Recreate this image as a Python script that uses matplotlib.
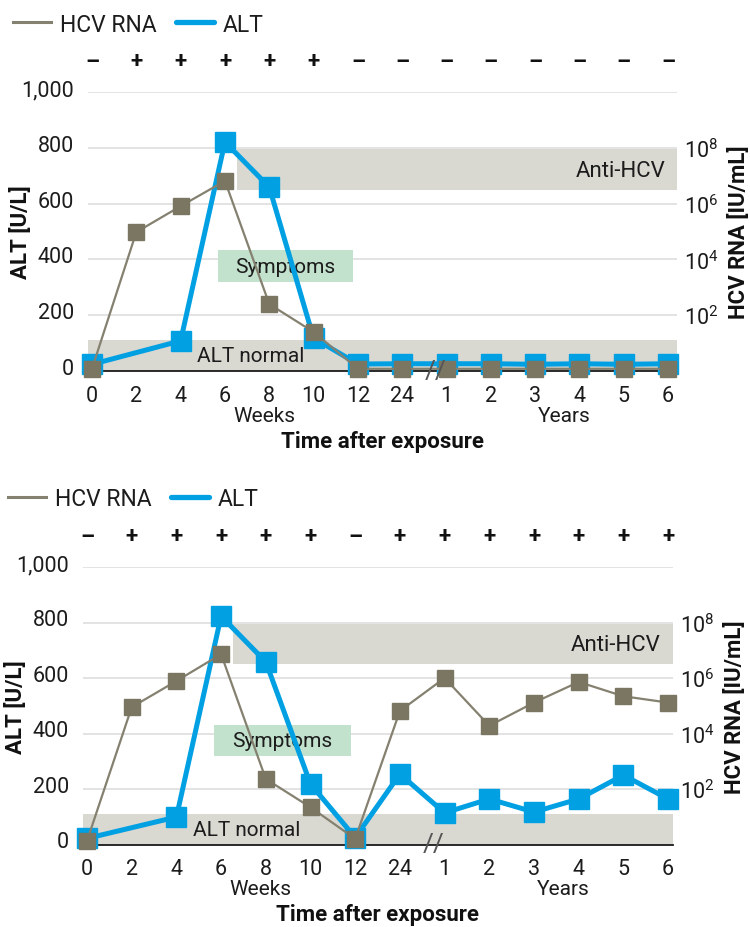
import numpy as np
import matplotlib
matplotlib.use("Agg")
import matplotlib.pyplot as plt
from matplotlib.lines import Line2D
from matplotlib import transforms

plt.rcParams['font.family'] = ['Roboto', 'DejaVu Sans']
plt.rcParams['mathtext.fontset'] = 'custom'
plt.rcParams['mathtext.rm'] = 'Roboto'
plt.rcParams['mathtext.it'] = 'Roboto'

# ---------------- data ----------------
x_labels = ['0', '2', '4', '6', '8', '10', '12', '24', '1', '2', '3', '4', '5', '6']
slots = np.arange(len(x_labels))

alt_slots = [0, 2, 3, 4, 5, 6, 7, 8, 9, 10, 11, 12, 13]   # no ALT at week 2

# panel 1: resolved infection
hcv_top = [1.2, 9.5e4, 8.1e5, 6.5e6, 250, 25, 1.2, 1.2, 1.2, 1.2, 1.2, 1.2, 1.2, 1.2]
alt_top = [24, 108, 821, 659, 118, 25, 26, 26, 26, 24, 26, 24, 26]
signs_top = ['–', '+', '+', '+', '+', '+', '–', '–', '–', '–', '–', '–', '–', '–']

# panel 2: chronic infection
hcv_bot = [1.35, 8.9e4, 7.8e5, 7.2e6, 230, 22, 1.6, 6.5e4, 1.0e6, 1.9e4, 1.3e5, 7.2e5, 2.2e5, 1.3e5]
alt_bot = [22, 99, 823, 658, 218, 25, 254, 114, 164, 117, 164, 250, 164]
signs_bot = ['–', '+', '+', '+', '+', '+', '–', '+', '+', '+', '+', '+', '+', '+']

alt_ticks = [0, 200, 400, 600, 800, 1000]
alt_ticklabels = ['0', '200', '400', '600', '800', '1,000']
rna_ticks = [1e2, 1e4, 1e6, 1e8]
rna_ticklabels = ['$10^{2}$', '$10^{4}$', '$10^{6}$', '$10^{8}$']

alt_normal = (0, 110)
anti_hcv = (650, 795)
anti_hcv_start = 3.27
symptoms_y = (320, 432)
symptoms_x = (2.84, 5.90)

# ---------------- style ----------------
GRAY = '#7a7662'
GRAY_LINE = '#858170'
BLUE = '#00a0e3'
BAND = '#d9d8d1'
GREEN = '#c3e2cd'
TXT = '#1c1c1c'
GRID = '#e0e0e0'

W, H = 750, 928
fig = plt.figure(figsize=(W / 100, H / 100), dpi=100)


def panel(rect, xlim, hcv, alt, signs, legend_xy):
    ax = fig.add_axes(rect)
    ax.set_xlim(*xlim)
    ax.set_ylim(0, 1000)
    for s in ['top', 'right', 'left']:
        ax.spines[s].set_visible(False)
    ax.spines['bottom'].set_color('#1a1a1a')
    ax.spines['bottom'].set_linewidth(1.3)
    ax.spines['bottom'].set_zorder(2)

    ax.set_yticks(alt_ticks)
    ax.set_yticklabels(alt_ticklabels)
    ax.set_xticks(slots)
    ax.set_xticklabels(x_labels)
    ax.tick_params(axis='both', length=0, labelsize=15.5, colors=TXT)
    ax.tick_params(axis='y', pad=10)
    ax.tick_params(axis='x', pad=10)
    off = transforms.ScaledTranslation(0, 5 / 100, fig.dpi_scale_trans)
    for lab in ax.get_yticklabels():
        lab.set_transform(lab.get_transform() + off)
    ax.yaxis.grid(True, color=GRID, lw=1.3, zorder=0)
    ax.set_axisbelow(True)

    # bands
    ax.axhspan(*alt_normal, color=BAND, lw=0, zorder=0.6)
    ax.fill_between([anti_hcv_start, xlim[1]], anti_hcv[0], anti_hcv[1],
                    color=BAND, lw=0, zorder=0.6)
    ax.fill_between(list(symptoms_x), symptoms_y[0], symptoms_y[1],
                    color=GREEN, lw=0, zorder=0.6)

    ax.text(3.58, 55, 'ALT normal', fontsize=15, color=TXT, ha='center', va='center', zorder=1)
    ax.text(np.mean(symptoms_x), np.mean(symptoms_y), 'Symptoms', fontsize=15, color=TXT,
            ha='center', va='center', zorder=1)
    ax.text(xlim[1] - 0.27, 720, 'Anti-HCV', fontsize=16, color=TXT, ha='right', va='center', zorder=1)

    # ALT series
    ax.plot(alt_slots, alt, color=BLUE, lw=3.6, marker='s', ms=15,
            mec=BLUE, mfc=BLUE, zorder=3, clip_on=False)

    # HCV RNA series on log twin axis
    ax2 = ax.twinx()
    ax2.set_yscale('log')
    ax2.set_ylim(1, 1e10)
    for s in ax2.spines.values():
        s.set_visible(False)
    ax2.set_yticks(rna_ticks)
    ax2.set_yticklabels(rna_ticklabels)
    ax2.yaxis.set_minor_locator(matplotlib.ticker.NullLocator())
    ax2.tick_params(axis='y', length=0, labelsize=15.5, colors=TXT, pad=5)
    ax2.plot(slots, hcv, color=GRAY_LINE, lw=1.6, marker='s', ms=11.5,
             mec=GRAY, mfc=GRAY, zorder=4, clip_on=False)

    # break mark
    ax2.text(7.75, 1.0, '//', fontsize=19, color='#555555', ha='center', va='center',
             zorder=5, clip_on=False)

    # plus / minus row
    st = transforms.blended_transform_factory(ax.transData, ax.transAxes)
    for xs, sg in zip(slots, signs):
        ax.text(xs, 1.11, sg, transform=st, fontsize=16, fontweight='bold',
                color='#111111', ha='center', va='center')

    # axis texts
    ax.text(3.88, -0.16, 'Weeks', transform=st, fontsize=15, color=TXT, ha='center', va='center')
    ax.text(10.65, -0.16, 'Years', transform=st, fontsize=15, color=TXT, ha='center', va='center')
    ax.text(0.5, -0.25, 'Time after exposure', transform=ax.transAxes, fontsize=16,
            fontweight='bold', color='#111111', ha='center', va='center')
    ax.set_ylabel('ALT [U/L]', fontsize=16, fontweight='bold', color='#111111')
    ax.yaxis.set_label_coords(-0.095, 0.5)
    ax2.set_ylabel('HCV RNA [IU/mL]', fontsize=16, fontweight='bold', color='#111111',
                   rotation=90)
    ax2.yaxis.set_label_coords(1.087, 0.5)

    # legend
    handles = [Line2D([], [], color=GRAY_LINE, lw=2.2),
               Line2D([], [], color=BLUE, lw=3.8, solid_capstyle='round')]
    fig.legend(handles, ['HCV RNA', 'ALT'], loc='center left',
               bbox_to_anchor=legend_xy, ncol=2, frameon=False, fontsize=16.5,
               borderpad=0, borderaxespad=0, handlelength=1.65, handletextpad=0.4,
               columnspacing=0.85, labelcolor=TXT)
    return ax


panel([88 / W, 1 - 372 / H, 589 / W, 279 / H], (-0.09, 13.2), hcv_top, alt_top, signs_top,
      (13 / W, 1 - 25 / H))
panel([83 / W, 1 - 845.5 / H, 590 / W, 277.5 / H], (-0.09, 13.11), hcv_bot, alt_bot, signs_bot,
      (8 / W, 1 - 500 / H))

fig.savefig('out.png', dpi=100)
